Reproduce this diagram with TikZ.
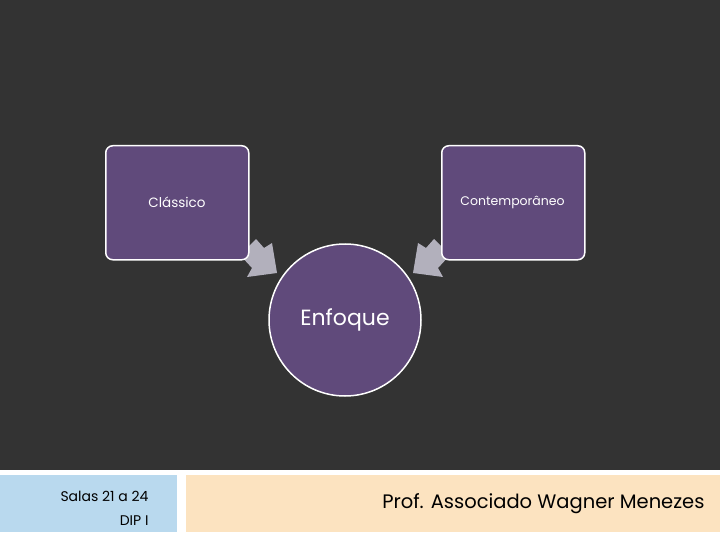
\documentclass[tikz,border=0pt]{standalone}
\usepackage{fontspec}
\setmainfont{Poppins}
\definecolor{bg}{HTML}{333333}
\definecolor{pur}{HTML}{604A7B}
\definecolor{arr}{HTML}{B2B0BC}
\definecolor{blu}{HTML}{B9D9EE}
\definecolor{bei}{HTML}{FCE3C0}
\begin{document}
\begin{tikzpicture}[x=1pt,y=-1pt,
  box/.style={draw=white,line width=1.5pt,fill=pur,rounded corners=7pt,minimum width=143pt,minimum height=114pt,inner sep=0pt},
  lbl/.style={text=white,font=\fontsize{13.5}{15}\selectfont}]
\useasboundingbox (0,0) rectangle (720,540);
\fill[white] (0,0) rectangle (720,540);
\fill[bg] (0,0) rectangle (720,470);
\fill[arr] (240,255)--(256,239)--(264,248)--(272,243)--(277,273)--(247,277)--(252,268)--cycle;
\fill[arr] (450,255)--(434,239)--(426,248)--(418,243)--(413,273)--(443,277)--(438,268)--cycle;
\node[box,anchor=north west] (a) at (105,145) {};
\node[lbl] (at) at (177,202) {Clássico};
\node[box,anchor=north west] (b) at (441,145) {};
\node[lbl,font=\fontsize{12.5}{15}\selectfont] (bt) at (512.5,202) {Contemporâneo};
\node[circle,draw=white,line width=1.5pt,fill=pur,minimum size=152pt,text=white,font=\fontsize{22}{26}\selectfont] (c) at (345,320) {Enfoque};
\fill[blu] (0,475) rectangle (177,532);
\fill[bei] (186,475) rectangle (720,532);
\node[align=right,anchor=east,font=\fontsize{14}{24}\selectfont] (s) at (152,508) {Salas 21 a 24\\DIP I};
\node[anchor=east,font=\fontsize{19.5}{22}\selectfont] (p) at (708,504) {Prof. Associado Wagner Menezes};
\end{tikzpicture}
\end{document}
